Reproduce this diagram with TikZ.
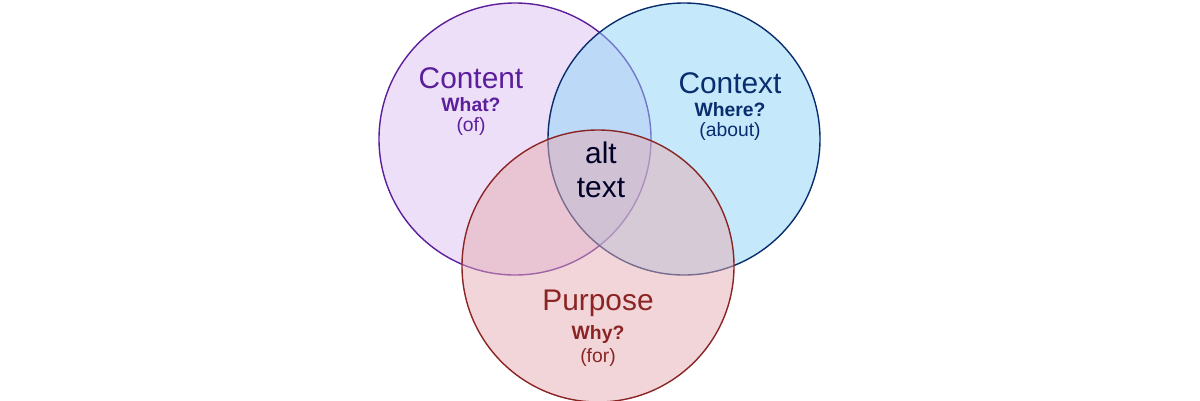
\documentclass[tikz,border=0pt]{standalone}
\usepackage{fontspec}
\setmainfont{Liberation Sans}
\usetikzlibrary{positioning}
\definecolor{contentpurple}{HTML}{5B1F9B}
\definecolor{contextblue}{HTML}{0A2D6E}
\definecolor{purposered}{HTML}{8B2525}
\definecolor{contentfill}{HTML}{DCC0F2}
\definecolor{contextfill}{HTML}{8CD2F8}
\definecolor{purposefill}{HTML}{E6ABB1}
\begin{document}
\begin{tikzpicture}[x=0.02cm,y=-0.02cm]
% Define styles
\tikzset{
  venn/.style={circle, minimum size=272*0.02cm, fill opacity=0.5, text opacity=1, thick},
  big/.style={font=\fontsize{17}{19}\selectfont},
  small/.style={font=\fontsize{11}{14}\selectfont}
}
\useasboundingbox (0,0) rectangle (1200,400);

% Circles
\node (content) [venn, draw=contentpurple, fill=contentfill] at (515,139) {};
\node (context) [venn, draw=contextblue, fill=contextfill] at (684,139) {};
\node (purpose) [venn, draw=purposered, fill=purposefill] at (598,266) {};

% Labels
\node (contentlbl) [big, text=contentpurple] at (471,78) {Content};
\node (contentq) [small, text=contentpurple, below=-2pt of contentlbl] {\textbf{What?}};
\node (contentp) [small, text=contentpurple, below=-4pt of contentq] {(of)};

\node (contextlbl) [big, text=contextblue] at (730,83) {Context};
\node (contextq) [small, text=contextblue, below=-2pt of contextlbl] {\textbf{Where?}};
\node (contextp) [small, text=contextblue, below=-4pt of contextq] {(about)};

\node (purposelbl) [big, text=purposered] at (598,303) {Purpose};
\node (purposeq) [small, text=purposered, below=-2pt of purposelbl] {\textbf{Why?}};
\node (purposep) [small, text=purposered, below=-4pt of purposeq] {(for)};

\node (alttext) [big, align=center, text=black!85!blue] at (601,170) {alt\\text};
\end{tikzpicture}
\end{document}
